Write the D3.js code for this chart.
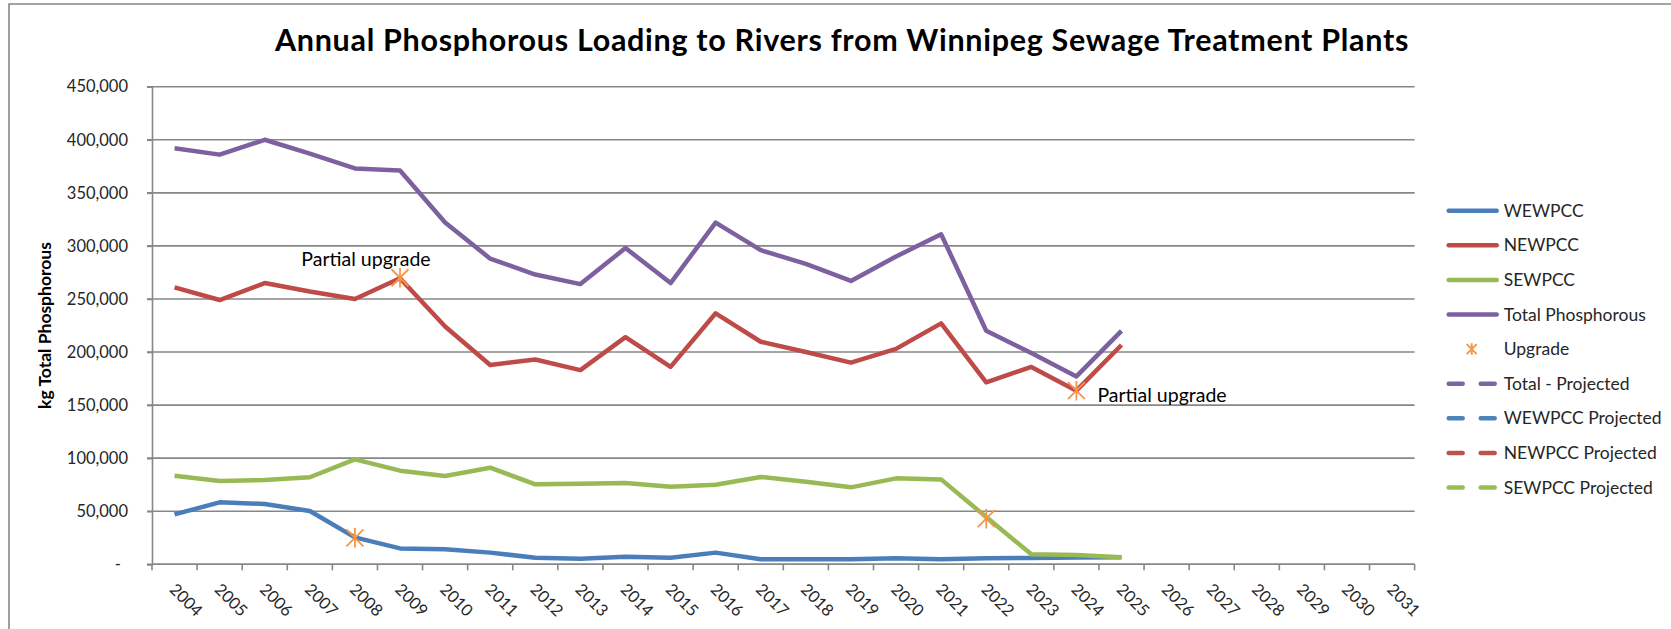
<!DOCTYPE html>
<html>
<head>
<meta charset="utf-8">
<script src="https://d3js.org/d3.v7.min.js"></script>
<style>
  body { margin: 0; background: #fff; }
  svg { display: block; font-family: Lato, "Open Sans", sans-serif; }
</style>
</head>
<body>
<svg width="1671" height="629"></svg>
<script>
// data
var years = [2004, 2005, 2006, 2007, 2008, 2009, 2010, 2011, 2012, 2013, 2014, 2015, 2016, 2017,
             2018, 2019, 2020, 2021, 2022, 2023, 2024, 2025, 2026, 2027, 2028, 2029, 2030, 2031];

var wewpcc = [47000, 58400, 56800, 50200, 25400, 15000, 14100, 11000, 6200, 5300, 7200, 6200, 11000, 4700,
              4700, 4700, 5600, 4700, 5600, 6000, 6400, 6600];
var newpcc = [261000, 249000, 265000, 257000, 250000, 269500, 224000, 187800, 193000, 183000, 214000, 186000, 236500, 209700,
              200000, 190000, 203000, 227000, 171500, 186000, 163600, 206600];
var sewpcc = [83500, 78500, 79400, 82000, 98900, 88200, 83200, 91000, 75400, 76000, 76600, 73000, 75000, 82300,
              77800, 72500, 81000, 80000, 44500, 9400, 8800, 6600];
var totalP = [392000, 386000, 400000, 387000, 373000, 371000, 322000, 288000, 273000, 264000, 298000, 265000, 322000, 296000,
              283000, 267000, 290000, 311000, 220000, 199000, 177000, 220000];

// projected series (in legend only, nothing plotted)
var totalProjected = [];
var wewpccProjected = [];
var newpccProjected = [];
var sewpccProjected = [];

// upgrade markers
var upgradeYears = [2008, 2009, 2022, 2024];
var upgradeValues = [25000, 270000, 43000, 163600];
var notes = [
  {year: 2009, value: 270000, text: "Partial upgrade", side: "above"},
  {year: 2024, value: 163600, text: "Partial upgrade", side: "right"}
];

var yTicks = [0, 50000, 100000, 150000, 200000, 250000, 300000, 350000, 400000, 450000];

var series = [
  {name: "WEWPCC", values: wewpcc, color: "#4A7EBB", dashed: false},
  {name: "NEWPCC", values: newpcc, color: "#BE4B48", dashed: false},
  {name: "SEWPCC", values: sewpcc, color: "#98B954", dashed: false},
  {name: "Total Phosphorous", values: totalP, color: "#7D60A0", dashed: false},
  {name: "Total - Projected", values: totalProjected, color: "#8064A2", dashed: true},
  {name: "WEWPCC Projected", values: wewpccProjected, color: "#4F81BD", dashed: true},
  {name: "NEWPCC Projected", values: newpccProjected, color: "#C0504D", dashed: true},
  {name: "SEWPCC Projected", values: sewpccProjected, color: "#9BBB59", dashed: true}
];

var upgradeColor = "#F79646";
var gridColor = "#878787";
var textColor = "#262626";

var svg = d3.select("svg");
var width = +svg.attr("width");
var height = +svg.attr("height");

var plot = {left: 152, right: 1414.6, top: 86.7, bottom: 564.3};

var x = d3.scaleBand().domain(years).range([plot.left, plot.right]).padding(0);
var y = d3.scaleLinear().domain([0, 450000]).range([plot.bottom, plot.top]);
function cx(yr) { return x(yr) + x.bandwidth() / 2; }

// outer chart border (cut off at right and bottom)
svg.append("path")
  .attr("d", "M9," + (height + 5) + "V4H" + (width + 5))
  .attr("fill", "none")
  .attr("stroke", gridColor)
  .attr("stroke-width", 1.6);

// title
svg.append("text")
  .attr("x", 842)
  .attr("y", 51)
  .attr("text-anchor", "middle")
  .attr("font-weight", "bold")
  .attr("font-size", 30.5)
  .attr("letter-spacing", 0.7)
  .attr("fill", "#000")
  .text("Annual Phosphorous Loading to Rivers from Winnipeg Sewage Treatment Plants");

// gridlines
svg.append("g")
  .selectAll("line")
  .data(yTicks)
  .enter()
  .append("line")
  .attr("x1", plot.left - 5)
  .attr("x2", plot.right)
  .attr("y1", function(d) { return y(d); })
  .attr("y2", function(d) { return y(d); })
  .attr("stroke", gridColor)
  .attr("stroke-width", 1.6);

// y axis
var yAxis = svg.append("g")
  .attr("transform", "translate(" + plot.left + ",0)")
  .call(d3.axisLeft(y).tickValues(yTicks).tickSize(5).tickPadding(19)
    .tickFormat(function(d) { return d === 0 ? "-" : d3.format(",")(d); }));
yAxis.select(".domain").attr("stroke", gridColor).attr("stroke-width", 1.6);
yAxis.selectAll(".tick line").attr("stroke", gridColor).attr("stroke-width", 1.6);
yAxis.selectAll(".tick text")
  .attr("font-family", "Lato, sans-serif")
  .attr("font-size", 16.5)
  .attr("fill", textColor)
  .attr("dx", function(d) { return d === 0 ? -7 : 0; });

// x axis, ticks at category boundaries
var xAxisG = svg.append("g");
xAxisG.append("line")
  .attr("x1", plot.left).attr("x2", plot.right)
  .attr("y1", plot.bottom).attr("y2", plot.bottom)
  .attr("stroke", gridColor).attr("stroke-width", 1.6);
xAxisG.selectAll(".xtick")
  .data(years.concat([null]))
  .enter()
  .append("line")
  .attr("class", "xtick")
  .attr("x1", function(d) { return d === null ? plot.right : x(d); })
  .attr("x2", function(d) { return d === null ? plot.right : x(d); })
  .attr("y1", plot.bottom)
  .attr("y2", plot.bottom + 6)
  .attr("stroke", gridColor)
  .attr("stroke-width", 1.6);
xAxisG.selectAll(".xlabel")
  .data(years)
  .enter()
  .append("text")
  .attr("class", "xlabel")
  .attr("transform", function(d) { return "translate(" + (cx(d) - 2) + "," + (plot.bottom + 22) + ") rotate(45)"; })
  .attr("dy", "0.35em")
  .attr("font-size", 16.5)
  .attr("fill", textColor)
  .text(function(d) { return d; });

// y axis title
svg.append("text")
  .attr("transform", "translate(51," + ((plot.top + plot.bottom) / 2) + ") rotate(-90)")
  .attr("text-anchor", "middle")
  .attr("font-weight", "bold")
  .attr("font-size", 17.5)
  .attr("fill", "#000")
  .text("kg Total Phosphorous");

// lines
var line = d3.line()
  .defined(function(d) { return d != null; })
  .x(function(d, i) { return cx(years[i]); })
  .y(function(d) { return y(d); });

svg.append("g")
  .selectAll("path")
  .data(series)
  .enter()
  .append("path")
  .attr("d", function(d) { return line(d.values); })
  .attr("fill", "none")
  .attr("stroke", function(d) { return d.color; })
  .attr("stroke-width", 4.5)
  .attr("stroke-linejoin", "round")
  .attr("stroke-dasharray", function(d) { return d.dashed ? "18,14" : null; });

// asterisk marker
function starPath(r) {
  return "M" + (-r) + "," + (-r) + "L" + r + "," + r +
         "M" + (-r) + "," + r + "L" + r + "," + (-r) +
         "M0," + (-r * 1.15) + "V" + (r * 1.15);
}

svg.append("g")
  .selectAll("path")
  .data(upgradeYears)
  .enter()
  .append("path")
  .attr("transform", function(d, i) { return "translate(" + cx(d) + "," + y(upgradeValues[i]) + ")"; })
  .attr("d", starPath(8.5))
  .attr("fill", "none")
  .attr("stroke", upgradeColor)
  .attr("stroke-width", 1.8);

// annotations
svg.append("g")
  .selectAll("text")
  .data(notes)
  .enter()
  .append("text")
  .attr("x", function(d) { return d.side === "above" ? cx(d.year) - 34 : cx(d.year) + 21; })
  .attr("y", function(d) { return d.side === "above" ? y(d.value) - 12 : y(d.value) + 11; })
  .attr("text-anchor", function(d) { return d.side === "above" ? "middle" : "start"; })
  .attr("font-size", 19.5)
  .attr("fill", "#000")
  .text(function(d) { return d.text; });

// legend
var legendItems = series.slice(0, 4).map(function(s) { return {name: s.name, color: s.color, type: "line"}; })
  .concat([{name: "Upgrade", color: upgradeColor, type: "star"}])
  .concat(series.slice(4).map(function(s) { return {name: s.name, color: s.color, type: "dash"}; }));

var legend = svg.append("g")
  .selectAll("g")
  .data(legendItems)
  .enter()
  .append("g")
  .attr("transform", function(d, i) { return "translate(1446.7," + (210.7 + i * 34.6) + ")"; });

legend.filter(function(d) { return d.type !== "star"; })
  .append("line")
  .attr("x1", 2).attr("x2", 50)
  .attr("y1", 0).attr("y2", 0)
  .attr("stroke", function(d) { return d.color; })
  .attr("stroke-width", 4.5)
  .attr("stroke-linecap", "round")
  .attr("stroke-dasharray", function(d) { return d.type === "dash" ? "14,18" : null; });

legend.filter(function(d) { return d.type === "star"; })
  .append("path")
  .attr("transform", "translate(25,0)")
  .attr("d", starPath(5))
  .attr("fill", "none")
  .attr("stroke", function(d) { return d.color; })
  .attr("stroke-width", 2);

legend.append("text")
  .attr("x", 57)
  .attr("dy", "0.35em")
  .attr("font-size", 17.5)
  .attr("fill", textColor)
  .text(function(d) { return d.name; });
</script>
</body>
</html>
